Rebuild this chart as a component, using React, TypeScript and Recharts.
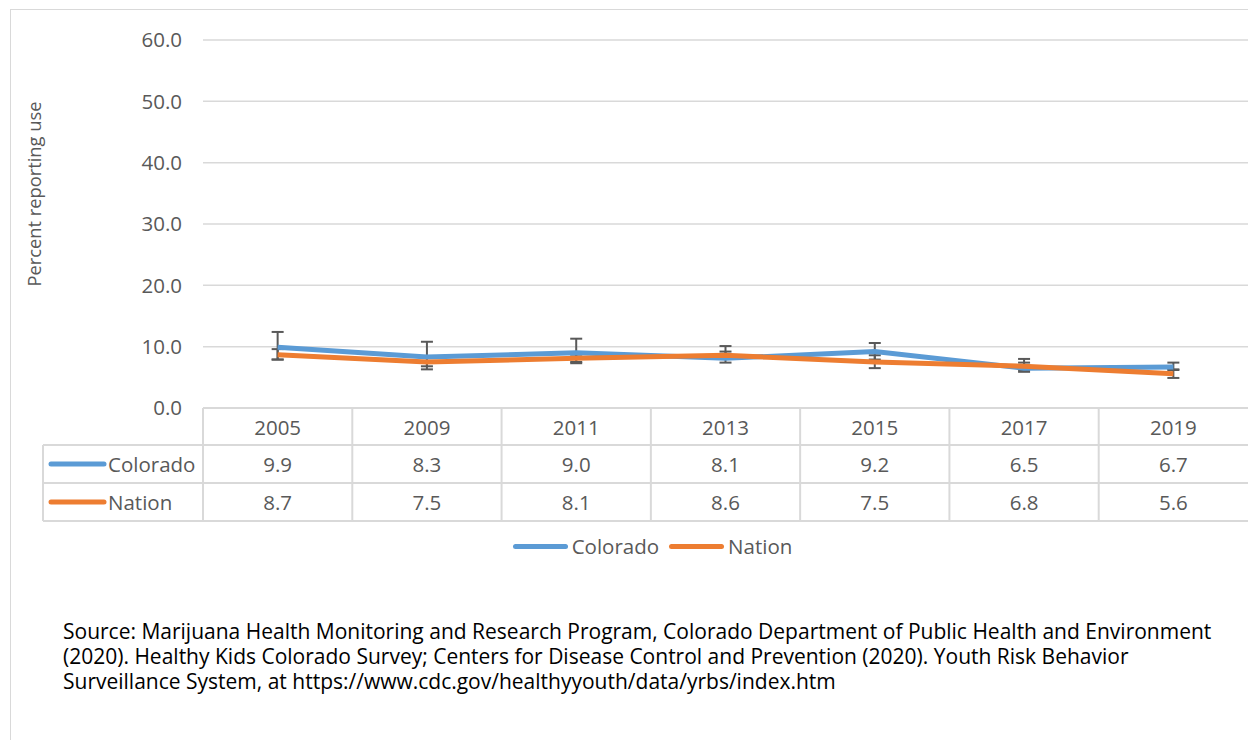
import { LineChart, Line, XAxis, YAxis, CartesianGrid, ErrorBar } from "recharts";

const years = ["2005", "2009", "2011", "2013", "2015", "2017", "2019"];
const colorado = [9.9, 8.3, 9.0, 8.1, 9.2, 6.5, 6.7];
const nation = [8.7, 7.5, 8.1, 8.6, 7.5, 6.8, 5.6];
// confidence interval bounds
const coloradoLow = [7.9, 6.3, 7.3, 7.4, 7.9, 5.9, 6.2];
const coloradoHigh = [12.4, 10.8, 11.3, 10.1, 10.6, 8.0, 7.4];
const nationLow = [7.9, 6.8, 7.5, 8.0, 6.5, 6.2, 4.9];
const nationHigh = [9.6, 8.2, 8.7, 9.2, 8.6, 7.4, 6.3];
const yTicks = [0, 10, 20, 30, 40, 50, 60];

const sourceLines = [
    "Source: Marijuana Health Monitoring and Research Program, Colorado Department of Public Health and Environment",
    "(2020). Healthy Kids Colorado Survey; Centers for Disease Control and Prevention (2020). Youth Risk Behavior",
    "Surveillance System, at https://www.cdc.gov/healthyyouth/data/yrbs/index.htm",
];

const BLUE = "#5b9bd5";
const ORANGE = "#ed7d31";
const TEXT = "#595959";
const GRID = "#d9d9d9";
const FONT = "'Open Sans', sans-serif";
const FS = 20.5;

const data = years.map((year, i) => ({
    year,
    colorado: colorado[i],
    nation: nation[i],
    coloradoErr: [colorado[i] - coloradoLow[i], coloradoHigh[i] - colorado[i]],
    nationErr: [nation[i] - nationLow[i], nationHigh[i] - nation[i]],
}));

// layout of the data table under the plot
const PLOT_LEFT = 203;
const PLOT_RIGHT = 1248;
const COL_W = (PLOT_RIGHT - PLOT_LEFT) / years.length;
const TABLE_LEFT = 43;
const ROWS = [408, 445, 483, 521];

const series = [
    { name: "Colorado", color: BLUE, values: colorado },
    { name: "Nation", color: ORANGE, values: nation },
];

function ChartLegend() {
    return (
        <div
            style={{
                position: "absolute",
                left: 0,
                top: 532,
                width: 1305,
                height: 28,
                display: "flex",
                justifyContent: "center",
                alignItems: "center",
                gap: 10,
                fontFamily: FONT,
                fontSize: FS,
                color: TEXT,
            }}
        >
            {series.map((s) => (
                <span key={s.name} style={{ display: "flex", alignItems: "center" }}>
                    <span
                        style={{
                            display: "inline-block",
                            width: 55,
                            height: 5,
                            borderRadius: 3,
                            background: s.color,
                            marginRight: 4,
                        }}
                    />
                    {s.name}
                </span>
            ))}
        </div>
    );
}

function DataTable() {
    return (
        <svg
            width={1248}
            height={740}
            style={{ position: "absolute", left: 0, top: 0, pointerEvents: "none" }}
        >
            <g stroke={GRID} strokeWidth={2}>
                <line x1={PLOT_LEFT} y1={ROWS[0]} x2={PLOT_RIGHT} y2={ROWS[0]} />
                {ROWS.slice(1).map((y) => (
                    <line key={y} x1={TABLE_LEFT} y1={y} x2={PLOT_RIGHT} y2={y} />
                ))}
                <line x1={TABLE_LEFT} y1={ROWS[1]} x2={TABLE_LEFT} y2={ROWS[3]} />
                {years.map((_, i) => (
                    <line
                        key={i}
                        x1={PLOT_LEFT + COL_W * i}
                        y1={ROWS[0]}
                        x2={PLOT_LEFT + COL_W * i}
                        y2={ROWS[3]}
                    />
                ))}
            </g>
            <g fontFamily={FONT} fontSize={FS} fill={TEXT} textAnchor="middle">
                {years.map((y, i) => (
                    <text
                        key={y}
                        x={PLOT_LEFT + COL_W * (i + 0.5)}
                        y={(ROWS[0] + ROWS[1]) / 2}
                        dominantBaseline="central"
                    >
                        {y}
                    </text>
                ))}
                {series.map((s, r) =>
                    s.values.map((v, i) => (
                        <text
                            key={s.name + i}
                            x={PLOT_LEFT + COL_W * (i + 0.5)}
                            y={(ROWS[r + 1] + ROWS[r + 2]) / 2}
                            dominantBaseline="central"
                        >
                            {v.toFixed(1)}
                        </text>
                    ))
                )}
            </g>
            {series.map((s, r) => {
                const cy = (ROWS[r + 1] + ROWS[r + 2]) / 2;
                return (
                    <g key={s.name}>
                        <line
                            x1={51}
                            y1={cy}
                            x2={104}
                            y2={cy}
                            stroke={s.color}
                            strokeWidth={5}
                            strokeLinecap="round"
                        />
                        <text
                            x={108}
                            y={cy}
                            dominantBaseline="central"
                            fontFamily={FONT}
                            fontSize={FS}
                            fill={TEXT}
                        >
                            {s.name}
                        </text>
                    </g>
                );
            })}
        </svg>
    );
}

export default function App() {
    return (
        <div
            style={{
                position: "absolute",
                left: 0,
                top: 0,
                width: 1248,
                height: 740,
                overflow: "hidden",
                background: "#fff",
            }}
        >
            {/* chart frame */}
            <div
                style={{
                    position: "absolute",
                    left: 10,
                    top: 9,
                    width: 1300,
                    height: 800,
                    border: `1.5px solid ${GRID}`,
                }}
            />

            <div
                style={{
                    position: "absolute",
                    left: 33,
                    top: 194,
                    transform: "translate(-50%, -50%) rotate(-90deg)",
                    whiteSpace: "nowrap",
                    fontFamily: FONT,
                    fontSize: 18.3,
                    color: TEXT,
                }}
            >
                Percent reporting use
            </div>

            <div style={{ position: "absolute", left: 0, top: 0 }}>
                <LineChart
                    width={1248}
                    height={740}
                    data={data}
                    margin={{ top: 40, right: 0, bottom: 332, left: 0 }}
                >
                    <CartesianGrid vertical={false} stroke={GRID} strokeWidth={1.5} />
                    <XAxis
                        dataKey="year"
                        hide
                        padding={{ left: COL_W / 2, right: COL_W / 2 }}
                    />
                    <YAxis
                        width={PLOT_LEFT}
                        domain={[0, 60]}
                        ticks={yTicks}
                        axisLine={false}
                        tickLine={false}
                        tickSize={0}
                        tickMargin={21}
                        tickFormatter={(v: number) => v.toFixed(1)}
                        tick={{ fill: TEXT, fontSize: FS, fontFamily: FONT }}
                    />

                    {/* error bars drawn first so the lines sit over them */}
                    <Line
                        dataKey="colorado"
                        stroke="none"
                        dot={false}
                        activeDot={false}
                        legendType="none"
                        isAnimationActive={false}
                    >
                        <ErrorBar dataKey="coloradoErr" width={6} strokeWidth={2} stroke={TEXT} />
                    </Line>
                    <Line
                        dataKey="nation"
                        stroke="none"
                        dot={false}
                        activeDot={false}
                        legendType="none"
                        isAnimationActive={false}
                    >
                        <ErrorBar dataKey="nationErr" width={6} strokeWidth={2} stroke={TEXT} />
                    </Line>

                    <Line
                        dataKey="colorado"
                        name="Colorado"
                        stroke={BLUE}
                        strokeWidth={5}
                        dot={false}
                        isAnimationActive={false}
                    />
                    <Line
                        dataKey="nation"
                        name="Nation"
                        stroke={ORANGE}
                        strokeWidth={5}
                        dot={false}
                        isAnimationActive={false}
                    />
                </LineChart>
            </div>

            <DataTable />
            <ChartLegend />

            <div
                style={{
                    position: "absolute",
                    left: 63,
                    top: 619,
                    fontFamily: FONT,
                    fontSize: 21,
                    lineHeight: "25px",
                    color: "#000",
                    whiteSpace: "nowrap",
                }}
            >
                {sourceLines.map((line) => (
                    <div key={line}>{line}</div>
                ))}
            </div>
        </div>
    );
}
